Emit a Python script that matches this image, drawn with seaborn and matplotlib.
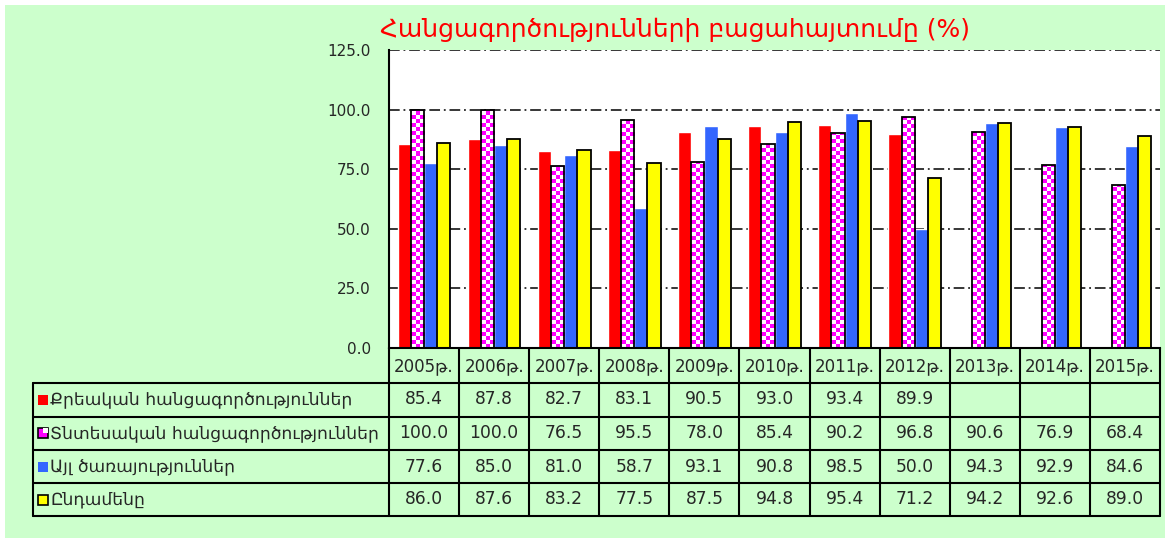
import numpy as np
import pandas as pd
import matplotlib
matplotlib.use('Agg')
import matplotlib.pyplot as plt
import matplotlib.transforms as mtransforms
from matplotlib.patches import Rectangle
from matplotlib.lines import Line2D
from matplotlib.colors import ListedColormap
import seaborn as sns

years = ['2005թ.', '2006թ.', '2007թ.', '2008թ.', '2009թ.', '2010թ.',
         '2011թ.', '2012թ.', '2013թ.', '2014թ.', '2015թ.']
series_names = ['Քրեական հանցագործություններ',
                'Տնտեսական հանցագործություններ',
                'Այլ ծառայություններ',
                'Ընդամենը']
criminal = [85.4, 87.8, 82.7, 83.1, 90.5, 93.0, 93.4, 89.9, np.nan, np.nan, np.nan]
economic = [100.0, 100.0, 76.5, 95.5, 78.0, 85.4, 90.2, 96.8, 90.6, 76.9, 68.4]
other = [77.6, 85.0, 81.0, 58.7, 93.1, 90.8, 98.5, 50.0, 94.3, 92.9, 84.6]
total = [86.0, 87.6, 83.2, 77.5, 87.5, 94.8, 95.4, 71.2, 94.2, 92.6, 89.0]
title = 'Հանցագործությունների բացահայտումը (%)'

colors = ['#FF0000', '#FF00FF', '#3366FF', '#FFFF00']
values = [criminal, economic, other, total]

rows = []
for name, vals in zip(series_names, values):
    for yr, v in zip(years, vals):
        rows.append((yr, name, v))
df = pd.DataFrame(rows, columns=['year', 'series', 'value'])

sns.set_style('white')
plt.rcParams['font.family'] = ['DejaVu Sans']

W, H = 1165, 538
def fx(px): return px / W
def fy(px): return 1 - px / H

fig = plt.figure(figsize=(W / 100, H / 100), dpi=100)
fig.patch.set_facecolor('white')
fig.add_artist(Rectangle((fx(5), 0), 1 - fx(5), fy(5), transform=fig.transFigure,
                         facecolor='#CCFFCC', edgecolor='none', zorder=0))

ax = fig.add_axes([fx(389), fy(348), fx(1160) - fx(389), (348 - 50) / H])
ax.set_facecolor('white')

sns.barplot(data=df, x='year', y='value', hue='series', order=years,
            hue_order=series_names, palette=colors, width=0.75, saturation=1,
            errorbar=None, legend=False, ax=ax)

# checkered bars for the economic series
cmap = ListedColormap(['white', '#FF00FF'])
cell_y = 4 * 125 / 298
for bar in ax.containers[1]:
    h = bar.get_height()
    if np.isnan(h):
        continue
    x0, w = bar.get_x(), bar.get_width()
    nr = int(np.ceil(h / cell_y))
    board = (np.add.outer(np.arange(nr), np.arange(3)) % 2)[::-1]
    im = ax.imshow(board, cmap=cmap, extent=(x0, x0 + w, 0, nr * cell_y),
                   aspect='auto', interpolation='nearest', zorder=2.5)
    im.set_clip_path(bar)
    bar.set_facecolor('none')
    bar.set_edgecolor('black')
    bar.set_linewidth(1.3)
    bar.set_zorder(3)
for bar in ax.containers[3]:
    bar.set_edgecolor('black')
    bar.set_linewidth(1.3)

ax.set_xlim(-0.5, len(years) - 0.5)
ax.set_ylim(0, 125)
ax.set_yticks(np.arange(0, 126, 25))
ax.set_yticklabels([f'{v:.1f}' for v in np.arange(0, 126, 25)], fontsize=11)
ax.set_xticks([])
ax.set_xlabel('')
ax.set_ylabel('')
ax.yaxis.grid(True, color='black', linestyle=(0, (7, 2.5, 1.2, 2.5)), linewidth=1.1)
ax.set_axisbelow(True)
ax.tick_params(axis='y', direction='out', length=5, width=1.2, color='black', pad=8)
for s in ['top', 'right']:
    ax.spines[s].set_visible(False)
for s in ['left', 'bottom']:
    ax.spines[s].set_color('black')
    ax.spines[s].set_linewidth(1.5)

fig.text(fx(380), fy(30), title, color='#FF0000', fontsize=18, ha='left', va='center')

# data table under the axes
bt = mtransforms.blended_transform_factory(ax.transData, fig.transFigure)
lk = dict(color='black', linewidth=1.5)
for b in np.arange(-0.5, len(years)):
    fig.add_artist(Line2D([b, b], [fy(348), fy(516)], transform=bt, **lk))
for yp in [383, 416.5, 450, 483, 516]:
    fig.add_artist(Line2D([fx(33), fx(1160)], [fy(yp), fy(yp)], transform=fig.transFigure, **lk))
fig.add_artist(Line2D([fx(33), fx(33)], [fy(383), fy(516)], transform=fig.transFigure, **lk))

for i, yr in enumerate(years):
    ax.text(i, fy(366), yr, transform=bt, ha='center', va='center', fontsize=12)

centers = [399.5, 433, 466.5, 499.5]
for name, vals, col, cy in zip(series_names, values, colors, centers):
    for i, v in enumerate(vals):
        if not np.isnan(v):
            ax.text(i, fy(cy), f'{v:.1f}', transform=bt, ha='center', va='center', fontsize=12.3)
    fig.text(fx(50), fy(cy), name, ha='left', va='center', fontsize=12.3)
    edge = 'black' if col in ('#FF00FF', '#FFFF00') else 'none'
    fig.add_artist(Rectangle((fx(38), fy(cy + 5)), 10 / W, 10 / H, transform=fig.transFigure,
                             facecolor=col, edgecolor=edge, linewidth=1.2))
    if col == '#FF00FF':
        fig.add_artist(Rectangle((fx(43), fy(cy)), 5 / W, 5 / H, transform=fig.transFigure,
                                 facecolor='white', edgecolor='none'))

fig.savefig('out.png', dpi=100)
